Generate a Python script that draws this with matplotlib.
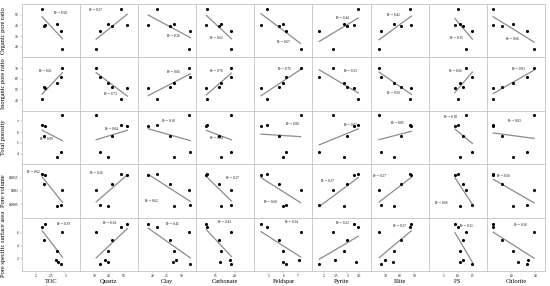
import matplotlib
matplotlib.use('Agg')
import matplotlib.pyplot as plt
import numpy

plt.rcParams['font.family'] = ['Liberation Serif', 'DejaVu Serif']

nan = numpy.nan

# Samples A..H (rows 1-4 have no value for two of them)
col_names = ['TOC', 'Quartz', 'Clay', 'Carbonate', 'Feldspar', 'Pyrite', 'Illite', 'I/S', 'Chlorite']
toc = [2.20, 2.28, 2.30, 2.68, 2.72, 2.75, 2.84, 2.90]
quartz = [48.6, 42.2, 52.6, 37.6, 39.2, 39.4, 33.7, 31.2]
clay = [21.4, 25.9, 18.5, 28.2, 27.5, 27.1, 33.0, 32.5]
carbonate = [12.9, 15.9, 12.65, 18.7, 16.3, 16.2, 19.0, 19.1]
feldspar = [4.87, 5.67, 4.46, 7.04, 5.97, 5.94, 6.17, 7.18]
pyrite = [3.47, 2.98, 3.29, 2.46, 2.86, 3.36, 1.79, 2.37]
illite = [86.8, 80.8, 88.0, 70.0, 75.9, 75.5, 66.9, 65.8]
i_s = [9.93, 11.8, 9.0, 11.8, 10.9, 10.9, 15.0, 12.97]
chlorite = [2.6, 6.3, 2.6, 16.9, 10.8, 12.7, 16.6, 19.5]

row_names = ['Organic pore ratio', 'Inorganic pore ratio', 'Total porosity',
             'Pore volume', 'Pore specific surface area']
organic = [55.3, 39.1, 40.3, nan, 41.3, nan, 34.7, 17.6]
inorganic = [41.0, 52.0, 51.3, nan, 56.3, nan, 61.6, 70.4]
porosity = [6.64, 5.66, 6.60, nan, 3.65, nan, 4.12, 7.58]
pore_volume = [0.00163, 0.00125, 0.00158, nan, 0.00043, nan, 0.00046, 0.00103]
pssa = [6.97, 4.83, 7.39, 1.68, 3.15, 1.37, 1.10, 6.09]

# R-square labels (rows x columns)
r2 = [[0.58, 0.27, 0.36, 0.62, 0.67, 0.44, 0.42, 0.35, 0.66],
      [0.61, 0.72, 0.66, 0.76, 0.76, 0.33, 0.50, 0.66, 0.83],
      [0.09, 0.04, 0.10, 0.04, 0.00, 0.02, 0.05, 0.18, 0.03],
      [0.62, 0.26, 0.62, 0.27, 0.60, 0.27, 0.27, 0.66, 0.56],
      [0.39, 0.34, 0.41, 0.43, 0.24, 0.22, 0.27, 0.31, 0.36]]

x_data = [toc, quartz, clay, carbonate, feldspar, pyrite, illite, i_s, chlorite]
y_data = [organic, inorganic, porosity, pore_volume, pssa]

# axis setup
x_lims = [(1.5, 3.5), (20, 60), (15, 35), (10, 25), (4, 8), (1.5, 4), (60, 100), (0, 20), (0, 24)]
x_ticks = [[2, 2.5, 3], [30, 40, 50], [20, 25, 30], [15, 20], [5, 6, 7],
           [2, 2.5, 3, 3.5], [70, 80, 90], [5, 10, 15], [10, 20]]
x_tick_labels = [['2', '2.5', '3'], ['30', '40', '50'], ['20', '25', '30'], ['15', '20'], ['5', '6', '7'],
                 ['2', '2.5', '3', '3.5'], ['70', '80', '90'], ['5', '10', '15'], ['10', '20']]
y_lims = [(10, 60), (30, 80), (3, 8), (0, 0.002), (0, 8.4)]
y_ticks = [[20, 30, 40, 50], [40, 50, 60, 70], [4, 5, 6, 7], [0.0005, 0.001, 0.0015], [2, 4, 6]]
y_tick_labels = [['20', '30', '40', '50'], ['40', '50', '60', '70'], ['4', '5', '6', '7'],
                 ['0.0005', '0.001', '0.0015'], ['2', '4', '6']]

# where the R-square text sits inside each panel (axes fraction)
r2_pos = [[(0.66, 0.84), (0.26, 0.88), (0.60, 0.40), (0.34, 0.37), (0.50, 0.29), (0.51, 0.73), (0.40, 0.79), (0.47, 0.37), (0.43, 0.34)],
          [(0.40, 0.75), (0.53, 0.31), (0.60, 0.72), (0.35, 0.75), (0.51, 0.78), (0.66, 0.75), (0.40, 0.34), (0.46, 0.75), (0.55, 0.78)],
          [(0.42, 0.47), (0.54, 0.66), (0.53, 0.80), (0.34, 0.49), (0.66, 0.75), (0.66, 0.73), (0.46, 0.77), (0.37, 0.89), (0.48, 0.81)],
          [(0.20, 0.86), (0.29, 0.83), (0.23, 0.32), (0.62, 0.74), (0.27, 0.30), (0.26, 0.69), (0.15, 0.78), (0.21, 0.28), (0.28, 0.77)],
          [(0.71, 0.88), (0.51, 0.89), (0.60, 0.88), (0.49, 0.91), (0.63, 0.91), (0.51, 0.89), (0.49, 0.84), (0.64, 0.84), (0.58, 0.87)]]

fig, axs = plt.subplots(5, 9, figsize = (5.5, 2.86), dpi = 100)
plt.subplots_adjust(left = 0.0395, right = 0.991, bottom = 0.0524, top = 0.986, wspace = 0, hspace = 0)

for r in range(5):
    for c in range(9):
        ax = axs[r, c]
        x = numpy.array(x_data[c], dtype = float)
        y = numpy.array(y_data[r], dtype = float)
        ok = ~numpy.isnan(x) & ~numpy.isnan(y)
        x, y = x[ok], y[ok]

        # least squares trend line over the range of the points
        b1, b0 = numpy.polyfit(x, y, 1)
        xs = numpy.array([x.min(), x.max()])
        ax.plot(xs, b0 + b1 * xs, color = '#8c8c8c', linewidth = 0.9, zorder = 2)
        ax.scatter(x, y, s = 5, color = 'black', linewidths = 0, zorder = 3)

        ax.text(r2_pos[r][c][0], r2_pos[r][c][1], 'R² = {:.2f}'.format(r2[r][c]),
                transform = ax.transAxes, fontsize = 2.4, ha = 'center', va = 'center')

        ax.set_xlim(x_lims[c])
        ax.set_ylim(y_lims[r])
        for s in ax.spines.values():
            s.set_color('#c4c4c4')
            s.set_linewidth(0.6)

        ax.tick_params(length = 1.2, width = 0.3, color = '#999999', labelsize = 2.6, pad = 1.2)
        if c == 0:
            ax.set_yticks(y_ticks[r])
            ax.set_yticklabels(y_tick_labels[r])
            ax.set_ylabel(row_names[r], fontsize = 4.6)
            ax.yaxis.set_label_coords(-0.27, 0.5)
        else:
            ax.set_yticks([])
        if r == 4:
            ax.set_xticks(x_ticks[c])
            ax.set_xticklabels(x_tick_labels[c])
            ax.set_xlabel(col_names[c], fontsize = 4.6)
            ax.xaxis.set_label_coords(0.5, -0.15)
        else:
            ax.set_xticks([])

plt.savefig('out.png', dpi = 100)
